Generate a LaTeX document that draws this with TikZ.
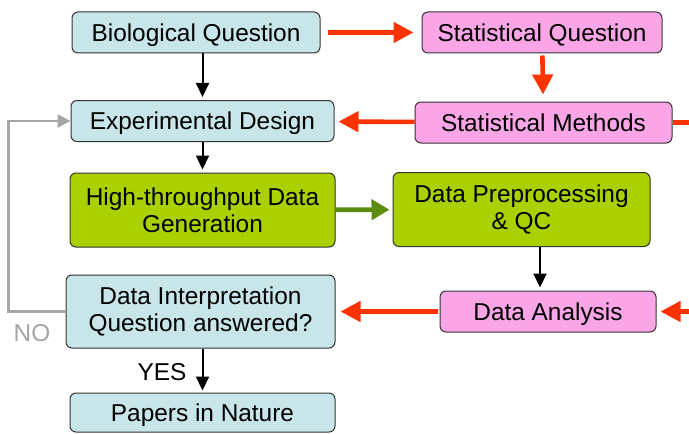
\documentclass[tikz,border=0pt]{standalone}
\usepackage{fontspec}
\setmainfont{Liberation Sans}
\usetikzlibrary{positioning,calc,arrows.meta}
\usepackage{xcolor}
\definecolor{boxblue}{RGB}{200,230,234}
\definecolor{boxpink}{RGB}{250,166,230}
\definecolor{boxgreen}{RGB}{170,208,0}
\definecolor{arrred}{RGB}{255,51,0}
\definecolor{arrgreen}{RGB}{92,140,16}
\definecolor{loopgray}{RGB}{165,165,165}

\begin{document}
\begin{tikzpicture}[x=0.5pt,y=-0.5pt,
  font=\fontsize{12.2}{13.6}\selectfont,
  box/.style={draw=black!80,line width=0.5pt,rounded corners=3pt,
   align=center,inner sep=0pt,minimum height=20.5pt},
  oneline/.style={text height=8.7pt,text depth=0pt},
  bluebox/.style={box,fill=boxblue},
  pinkbox/.style={box,fill=boxpink},
  greenbox/.style={box,fill=boxgreen,minimum height=37pt},
  blkarr/.style={-{Triangle[length=7pt,width=6.5pt]},line width=1pt},
  redarr/.style={-{Triangle[length=10pt,width=10pt]},line width=2.3pt,arrred},
  grnarr/.style={-{Triangle[length=9pt,width=10pt]},line width=2.3pt,arrgreen},
  grayarr/.style={-{Triangle[length=6.5pt,width=6.5pt]},line width=1.2pt,loopgray}]
 \useasboundingbox (0,0) rectangle (689,433);
 \node[bluebox,oneline,minimum width=124pt] (bio) at (196,32.5) {Biological Question};
 \node[pinkbox,oneline,minimum width=120pt] (statq) at (542,32.5) {Statistical Question};
 \node[bluebox,oneline,minimum width=131.5pt] (exp) at (202.5,121) {Experimental Design};
 \node[pinkbox,oneline,minimum width=128.5pt] (statm) at (543.5,122.5) {Statistical Methods};
 \node[greenbox,minimum width=132.5pt] (htp) at (202.5,210)
  {High-throughput Data\\Generation};
 \node[greenbox,minimum width=128.5pt] (prep) at (521.5,209.5)
  {Data Preprocessing\\\& QC};
 \node[pinkbox,oneline,minimum width=108pt] (ana) at (548,311.5) {Data Analysis};
 \node[bluebox,minimum width=134.5pt,minimum height=36.5pt] (interp) at (200.5,311.5)
  {Data Interpretation\\Question answered?};
 \node[bluebox,oneline,minimum width=132.5pt,minimum height=19.5pt] (papers) at (202.5,412.5)
  {Papers in Nature};
 \node (yes) at (162,372) {YES};
 \node[text=loopgray] (no) at (32,333) {NO};
 \coordinate (outR) at (689,122.5);
 \coordinate (inR) at (689,311.5);
 \draw[blkarr,shorten >=1.5pt] (exp.north |- bio.south) -- (exp);
 \draw[blkarr,shorten >=1.5pt] (exp) -- (htp);
 \draw[blkarr,shorten >=1.5pt] ([xshift=9.25pt]prep.south) -- ([xshift=9.25pt]prep.south |- ana.north);
 \draw[blkarr,shorten >=1pt] (interp.south -| papers) -- (papers);
 \draw[redarr,shorten <=3.5pt,shorten >=4pt] (bio) -- (statq);
 \draw[redarr,shorten <=1pt,shorten >=3.5pt] (statq) -- (statm);
 \draw[redarr,shorten >=2pt] (statm) -- (exp);
 \draw[line width=2.3pt,arrred] (statm) -- (outR);
 \draw[redarr,shorten >=2pt] (inR) -- (ana);
 \draw[redarr,shorten <=1pt,shorten >=2.5pt] (ana) -- (interp);
 \draw[grnarr,shorten >=1.5pt] (htp) -- (prep);
 \draw[grayarr] (interp.west) -- ++(-57,0) |- (exp.west);
\end{tikzpicture}
\end{document}
